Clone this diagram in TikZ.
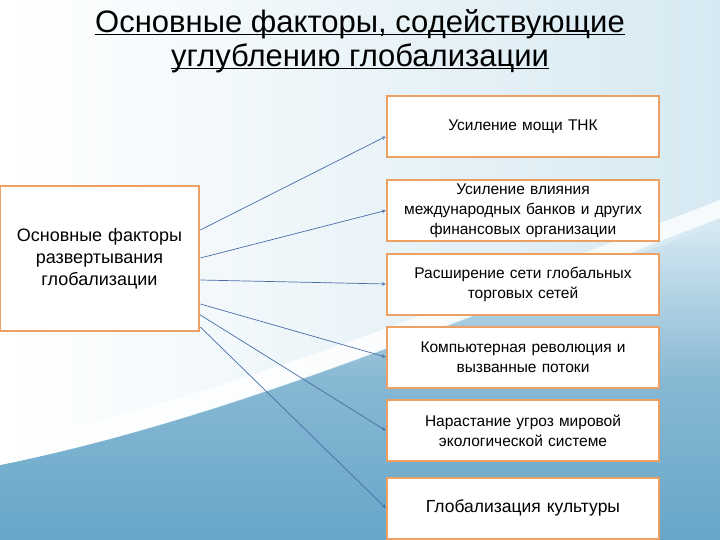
\documentclass[tikz,border=0pt]{standalone}
\usepackage{fontspec}
\setmainfont{Liberation Sans}
\usetikzlibrary{positioning, arrows}

\definecolor{boxline}{RGB}{237,160,100}
\definecolor{arrowblue}{RGB}{72,108,165}
\definecolor{skyblue}{RGB}{104,166,200}
\definecolor{paleblue}{RGB}{214,233,242}

\tikzset{
  factor/.style={draw=boxline, line width=2pt, fill=white, minimum width=270pt,
    minimum height=61pt, text width=266pt, align=center,
    font=\fontsize{15.5}{20}\selectfont},
  heading/.style={anchor=base, font=\fontsize{31}{34}\selectfont},
  link/.style={arrowblue, line width=0.7pt, -stealth},
}

\begin{document}
\begin{tikzpicture}[x=1pt,y=-1pt]
    % background
    \useasboundingbox (0,0) rectangle (720,540);
    \shade[left color=white, right color=paleblue] (0,0) rectangle (720,540);
    \shade[top color=paleblue, bottom color=skyblue, middle color=skyblue!80] (0,465) .. controls (250,415) and (500,300) .. (720,225) -- (720,540) -- (0,540) -- cycle;
    \fill[white, opacity=0.8] (0,445) .. controls (250,390) and (500,285) .. (720,200) -- (720,218) .. controls (500,302) and (250,412) .. (0,465) -- cycle;

    % title
    \node[heading] (title) at (360,33) {\underline{\smash{Основные факторы, содействующие}}};
    \node[heading] (title2) at (360,67) {\underline{\smash{углублению глобализации}}};

    % boxes
    \node[factor, minimum width=197pt, minimum height=145pt, text width=193pt,
        font=\fontsize{18}{22}\selectfont] (main) at (99.5,258.5)
        {Основные факторы развертывания глобализации};
    \node[factor] (f1) at (523,126.5) {Усиление мощи ТНК};
    \node[factor] (f2) at (523,210.5) {Усиление влияния\\ международных банков и других\\ финансовых организации};
    \node[factor] (f3) at (523,284) {Расширение сети глобальных\\ торговых сетей};
    \node[factor] (f4) at (523,357) {Компьютерная революция и\\ вызванные потоки};
    \node[factor] (f5) at (523,430.5) {Нарастание угроз мировой\\ экологической системе};
    \node[factor, font=\fontsize{17.5}{20}\selectfont] (f6) at (523,508) {Глобализация культуры};

    % arrows
    \draw[link] ([yshift=28.5pt]main.east) -- ([yshift=-10pt]f1.west);
    \foreach \s/\t in {0.5/2, -21.5/3, -45.5/4, -56.5/5, -68.5/6}
        \draw[link] ([yshift=\s pt]main.east) -- (f\t.west);
\end{tikzpicture}
\end{document}
